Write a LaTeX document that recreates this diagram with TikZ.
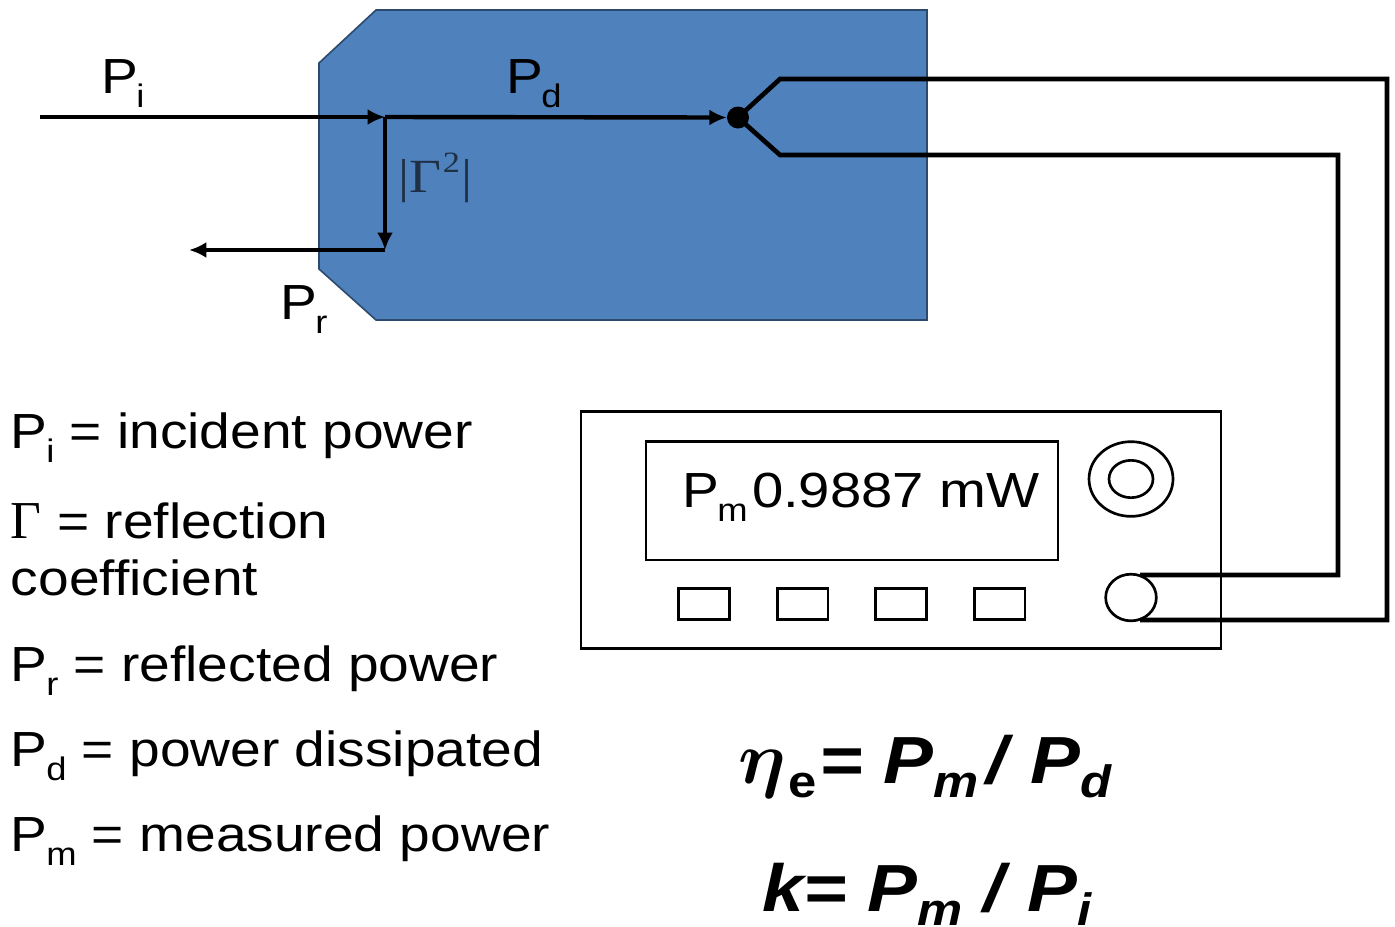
\documentclass[tikz,border=0pt]{standalone}
\usepackage{fontspec}
\setmainfont[FakeStretch=1.118]{Liberation Sans}
\newfontfamily\formulafont[FakeStretch=1.12]{Liberation Sans}
\newfontfamily\serifgreek{Liberation Serif}
\usetikzlibrary{arrows.meta,shapes.geometric}
\newcommand\sbs[1]{\kern-0.03em\raisebox{-0.3em}{\scalebox{0.66}{#1}}}
\newcommand\fsb[1]{\raisebox{-0.21em}{\scalebox{0.68}{#1}}}
\definecolor{boxblue}{HTML}{4F81BD}
\definecolor{edgeblue}{HTML}{2C4A6E}
\definecolor{gamtxt}{HTML}{1F3044}
\tikzset{
  x=0.75pt,y=-0.75pt,
  txt/.style={anchor=base west,inner sep=0pt,outer sep=0pt,text=black,font=\fontsize{37}{37}\selectfont},
  lab/.style={anchor=base west,inner sep=0pt,outer sep=0pt,text=black,font=\fontsize{37}{37}\selectfont},
  formula/.style={anchor=base west,inner sep=0pt,outer sep=0pt,text=black,font=\formulafont\fontsize{50}{50}\selectfont\bfseries\itshape},
  wire/.style={line width=3.5pt,black,line join=miter},
  flow/.style={line width=3.3pt,black,-{Latex[length=13pt,width=12pt]}},
  thin box/.style={draw=black,line width=2pt,fill=none},
}
\begin{document}
\begin{tikzpicture}
\useasboundingbox (0,0) rectangle (1395,926);
% blue block
\draw[fill=boxblue,draw=edgeblue,line width=1.2pt] (376,10) -- (927,10) -- (927,320) -- (376,320) -- (319,269) -- (319,63) -- cycle;
% coordinates
\coordinate (in) at (40,117);
\coordinate (split) at (385,117);
\coordinate (down) at (385,250);
\coordinate (out) at (189,250);
\coordinate (up1) at (780,79);
\coordinate (lo1) at (780,155);
\coordinate (up2) at (1387,79);
\coordinate (up3) at (1387,620);
\coordinate (lo2) at (1338,155);
\coordinate (lo3) at (1338,575);
\coordinate (p1) at (1140,620);
\coordinate (p2) at (1140,575);
% junction
\node[circle,fill=black,minimum size=16.5pt,inner sep=0pt] (tc) at (738,117.5) {};
% flows
\draw[flow] (in) -- (split);
\draw[flow,shorten >=0pt] (split) -- (tc.west);
\draw[flow] (split) -- (down);
\draw[flow] (down) -- (out);
% thermocouple wires
\draw[wire] (tc.center) -- (up1) -- (up2) -- (up3) -- (p1);
\draw[wire] (tc.center) -- (lo1) -- (lo2) -- (lo3) -- (p2);
% meter
\node[thin box,minimum width=480pt,minimum height=177.5pt,inner sep=0pt] (meter) at (901,530) {};
\node[thin box,minimum width=309pt,minimum height=89pt,inner sep=0pt] (display) at (852,500.5) {};
\foreach \n/\x in {a/704,b/802.5,c/901,d/999.5}
  \node[thin box,minimum width=38pt,minimum height=23pt,inner sep=0pt] (btn\n) at (\x,604) {};
\node[draw=black,line width=2pt,ellipse,minimum width=63pt,minimum height=56pt,inner sep=0pt] (knob) at (1131,479) {};
\node[draw=black,line width=2pt,ellipse,minimum width=33pt,minimum height=28pt,inner sep=0pt] (knobin) at (1131,479) {};
\node[draw=black,line width=2pt,ellipse,minimum width=38pt,minimum height=35pt,inner sep=0pt] (port) at (1131,597.5) {};
% labels
\node[lab] (lPi) at (101,93) {P\sbs{i}};
\node[lab] (lPd) at (506,93) {P\sbs{d}};
\node[lab] (lPr) at (280,319) {P\sbs{r}};
\node[anchor=base west,inner sep=0pt,text=gamtxt,font=\serifgreek\fontsize{34}{34}\selectfont] (lG) at (398,192) {\scalebox{1.22}[1.05]{|Γ\kern1pt\raisebox{0.42em}{\scalebox{0.62}{2}}\kern1pt|}};
\node[lab] (lPm) at (682,507) {P\sbs{m}};
\node[lab] (lval) at (752,507) {\scalebox{1.02}[1]{0.9887 mW}};
% legend
\node[txt] (t1) at (11,448) {P\sbs{i} = incident power};
\node[txt] (t2) at (11,538) {{\serifgreek\fontsize{40}{40}\selectfont Γ} = reflection};
\node[txt] (t3) at (11,595) {coefficient};
\node[txt] (t4) at (11,681) {P\sbs{r} = reflected power};
\node[txt] (t5) at (11,766) {P\sbs{d} = power dissipated};
\node[txt] (t6) at (11,851) {P\sbs{m} = measured power};
% formulas
\node[formula] (f1) at (738,783) {\scalebox{5.6}{\normalsize\boldmath$\eta$}\kern2pt{\upshape\fsb{e}}\kern2pt= P\fsb{m}\kern6pt/ \kern2pt P\fsb{d}};
\node[formula] (f2) at (762,911) {k= P\fsb{m} / \kern2pt P\fsb{i}};
\end{tikzpicture}
\end{document}
